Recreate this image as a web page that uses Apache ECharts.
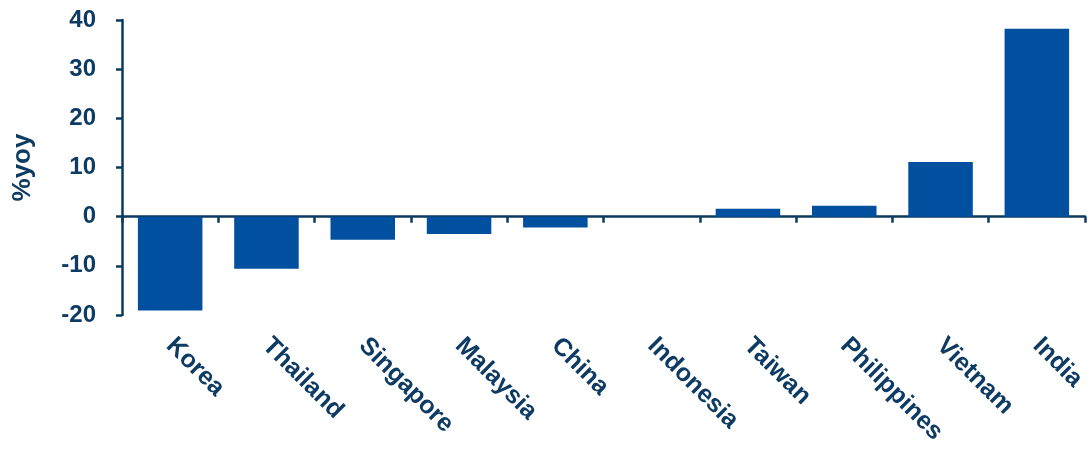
<!DOCTYPE html>
<html>
<head>
<meta charset="utf-8">
<script src="https://cdn.jsdelivr.net/npm/echarts@6/dist/echarts.min.js"></script>
<style>
  html, body { margin: 0; padding: 0; background: #fff; }
  #chart { width: 1091px; height: 450px; }
</style>
</head>
<body>
<div id="chart"></div>
<script>
// 各国同比变化 (%yoy)
const countries = ['Korea', 'Thailand', 'Singapore', 'Malaysia', 'China', 'Indonesia', 'Taiwan', 'Philippines', 'Vietnam', 'India'];
const yoyValues = [-19.1, -10.6, -4.7, -3.5, -2.2, 0, 1.6, 2.2, 11.1, 38.2];
const yTicks = { min: -20, max: 40, step: 10 };

const textColor = '#0d3b63';
const lineColor = '#0b3a5e';
const barColor = '#00509f';

const chart = echarts.init(document.getElementById('chart'));
chart.setOption({
  animation: false,
  grid: { left: 122, right: 6, top: 20, bottom: 135 },
  xAxis: [
    {
      // 底部标签
      type: 'category',
      data: countries,
      position: 'bottom',
      axisLine: { show: false, onZero: false },
      axisTick: { show: false },
      axisLabel: {
        rotate: -45,
        margin: 27,
        interval: 0,
        color: textColor,
        fontFamily: 'Liberation Sans, Arial, sans-serif',
        fontWeight: 'bold',
        fontSize: 25
      }
    },
    {
      // 零线和刻度
      type: 'category',
      data: countries,
      position: 'bottom',
      axisLine: { show: true, onZero: true, lineStyle: { color: lineColor, width: 2.5 } },
      axisTick: { show: true, length: 6, lineStyle: { color: lineColor, width: 2.5 } },
      axisLabel: { show: false }
    }
  ],
  yAxis: {
    type: 'value',
    min: yTicks.min,
    max: yTicks.max,
    interval: yTicks.step,
    name: '%yoy',
    nameLocation: 'middle',
    nameRotate: 90,
    nameGap: 86,
    nameTextStyle: {
      color: textColor,
      fontFamily: 'Liberation Sans, Arial, sans-serif',
      fontWeight: 'bold',
      fontSize: 26
    },
    splitLine: { show: false },
    axisLine: { show: true, lineStyle: { color: lineColor, width: 2.5 } },
    axisTick: { show: true, length: 6, lineStyle: { color: lineColor, width: 2.5 } },
    axisLabel: {
      margin: 26,
      color: textColor,
      fontFamily: 'Liberation Sans, Arial, sans-serif',
      fontWeight: 'bold',
      fontSize: 24
    }
  },
  series: [
    {
      type: 'bar',
      xAxisIndex: 0,
      data: yoyValues,
      barCategoryGap: '33%',
      itemStyle: { color: barColor }
    }
  ]
});
</script>
</body>
</html>
